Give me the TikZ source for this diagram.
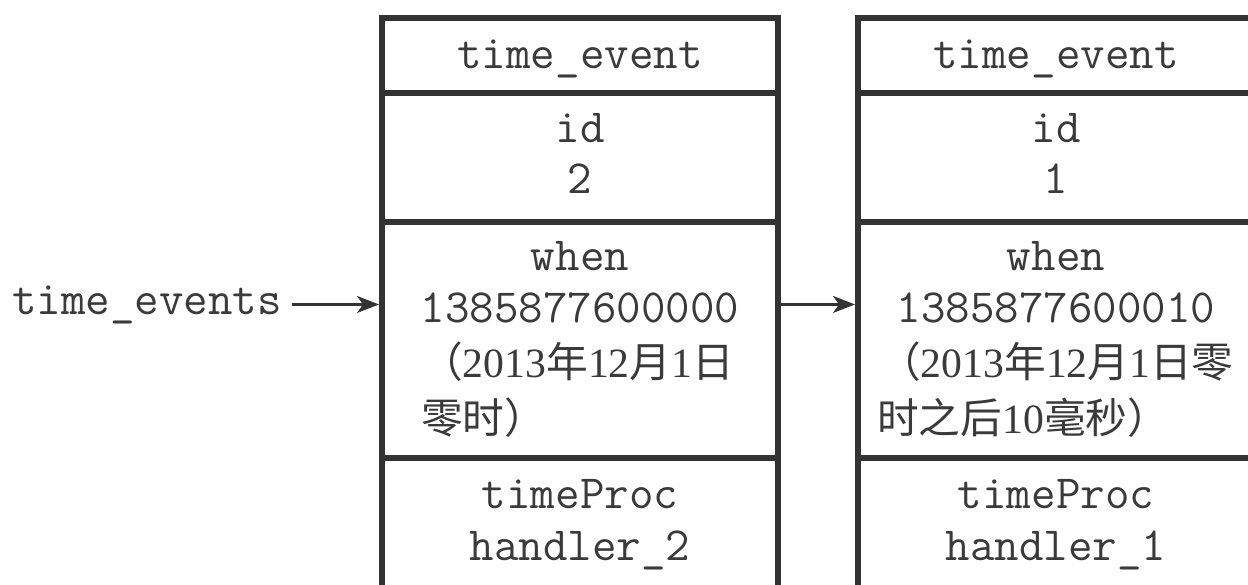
\documentclass[tikz,border=0pt]{standalone}
\usepackage{fontspec}
\setmainfont{Liberation Serif}
\newfontfamily\cjk{Noto Sans CJK SC}
\usetikzlibrary{arrows.meta}
\definecolor{ink}{HTML}{333333}
\definecolor{txt}{HTML}{3A3A3A}
\begin{document}
\begin{tikzpicture}[x=1pt,y=-1pt,
  cell/.style={draw=ink, line width=6.5pt, minimum width=396pt, inner sep=0pt, outer sep=0pt},
  mono/.style={anchor=base, inner sep=0pt, text=txt, font=\ttfamily\fontsize{47.6}{50}\selectfont},
  zh/.style={anchor=base west, inner sep=0pt, text=txt, font=\rmfamily\fontsize{41.7}{45}\selectfont},
  conn/.style={draw=ink, line width=2.2pt, -{Stealth[length=22pt,width=17pt,inset=6pt]}}]
\useasboundingbox (0,0) rectangle (1248,584);
\clip (0,0) rectangle (1248,584);
% left record
\node[cell, minimum height=75pt]  (l1) at (580,55.5) {};
\node[cell, minimum height=129pt] (l2) at (580,157.5) {};
\node[cell, minimum height=236pt] (l3) at (580,340) {};
\node[cell, minimum height=183pt] (l4) at (580,549.5) {};
% right record
\node[cell, minimum height=75pt]  (r1) at (1056,55.5) {};
\node[cell, minimum height=129pt] (r2) at (1056,157.5) {};
\node[cell, minimum height=236pt] (r3) at (1056,340) {};
\node[cell, minimum height=183pt] (r4) at (1056,549.5) {};
% left texts
\node[mono] (lt1) at (580,68) {time\_event};
\node[mono] (lt2) at (580,142) {id};
\node[mono] (lt3) at (580,193) {2};
\node[mono] (lt4) at (580,270) {when};
\node[mono] (lt5) at (580,322) {1385877600000};
\node[zh] (lt6) at (421,377) {{\cjk （}2013{\cjk 年}12{\cjk 月}1{\cjk 日}};
\node[zh] (lt7) at (421,433) {{\cjk 零时）}};
\node[mono] (lt8) at (580,508) {timeProc};
\node[mono] (lt9) at (580,560) {handler\_2};
% right texts
\node[mono] (rt1) at (1056,68) {time\_event};
\node[mono] (rt2) at (1056,142) {id};
\node[mono] (rt3) at (1056,193) {1};
\node[mono] (rt4) at (1056,270) {when};
\node[mono] (rt5) at (1056,322) {1385877600010};
\node[zh] (rt6) at (879,377) {{\cjk （}2013{\cjk 年}12{\cjk 月}1{\cjk 日零}};
\node[zh] (rt7) at (877,433) {{\cjk 时之后}10{\cjk 毫秒）}};
\node[mono] (rt8) at (1056,508) {timeProc};
\node[mono] (rt9) at (1056,560) {handler\_1};
% head label
\node[mono, anchor=base west] (tev) at (12,314) {time\_events};
% connectors
\draw[conn, shorten <=10pt, shorten >=3pt] (tev.east) -- (tev.east -| l3.west);
\draw[conn, shorten <=3pt, shorten >=3pt] (tev.east -| l3.east) -- (tev.east -| r3.west);
\end{tikzpicture}
\end{document}
